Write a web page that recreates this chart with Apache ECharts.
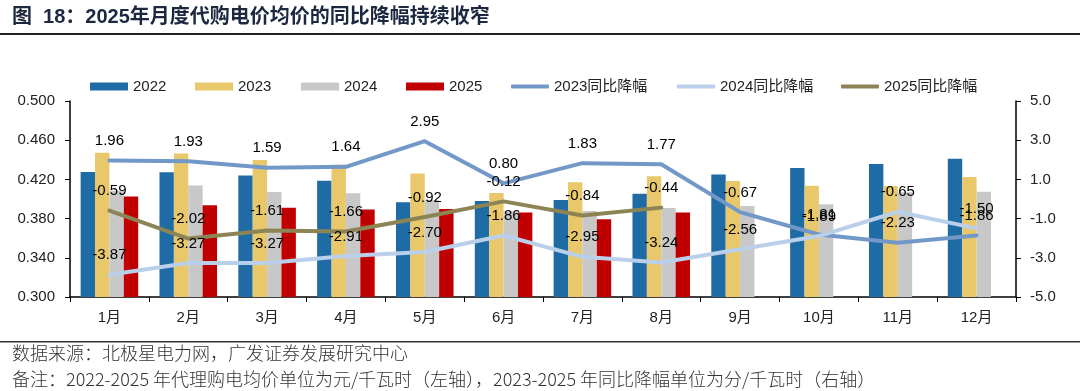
<!DOCTYPE html>
<html>
<head>
<meta charset="utf-8">
<script src="https://cdn.jsdelivr.net/npm/echarts@6/dist/echarts.min.js"></script>
<style>
html,body{margin:0;padding:0;background:#fff;}
#c{width:1080px;height:391px;}
</style>
</head>
<body>
<div id="c"></div>
<script>
const months = ['1月','2月','3月','4月','5月','6月','7月','8月','9月','10月','11月','12月'];
const price2022 = [0.4275, 0.4272, 0.4240, 0.4186, 0.3966, 0.3980, 0.3989, 0.4054, 0.4251, 0.4316, 0.4356, 0.4410];
const price2023 = [0.4471, 0.4465, 0.4399, 0.4350, 0.4261, 0.4060, 0.4172, 0.4231, 0.4184, 0.4135, 0.4133, 0.4224];
const price2024 = [0.4084, 0.4138, 0.4072, 0.4059, 0.3991, 0.3874, 0.3877, 0.3907, 0.3928, 0.3946, 0.4068, 0.4074];
const price2025 = [0.4025, 0.3936, 0.3911, 0.3893, 0.3899, 0.3862, 0.3793, 0.3863, null, null, null, null];
const yoy2023 = [1.96, 1.93, 1.59, 1.64, 2.95, 0.80, 1.83, 1.77, -0.67, -1.81, -2.23, -1.86];
const yoy2024 = [-3.87, -3.27, -3.27, -2.91, -2.70, -1.86, -2.95, -3.24, -2.56, -1.89, -0.65, -1.50];
const yoy2025 = [-0.59, -2.02, -1.61, -1.66, -0.92, -0.12, -0.84, -0.44];
const leftTicks = {min: 0.3, max: 0.5, interval: 0.04};
const rightTicks = {min: -5, max: 5, interval: 2};
const titleText = '图  18：2025年月度代购电价均价的同比降幅持续收窄';
const sourceText = '数据来源：北极星电力网，广发证券发展研究中心';
const noteText = '备注：2022-2025 年代理购电均价单位为元/千瓦时（左轴），2023-2025 年同比降幅单位为分/千瓦时（右轴）';

const FONT = "'Liberation Sans','Noto Sans CJK SC',sans-serif";
const colors = {
  b2022: '#1F6BA5', b2023: '#E8C86A', b2024: '#C8C8C8', b2025: '#C00000',
  l2023: '#7298C8', l2024: '#BAD0EA', l2025: '#8C8455'
};

const chart = echarts.init(document.getElementById('c'), null, {renderer: 'canvas'});

function barSeries(name, data, color) {
  return {
    name, type: 'bar', data, yAxisIndex: 0,
    barGap: '0%', barCategoryGap: '27%',
    itemStyle: {color}, z: 2
  };
}
function lineSeries(name, data, color) {
  return {
    name, type: 'line', data, yAxisIndex: 1,
    symbol: 'circle', symbolSize: 0, showSymbol: true,
    lineStyle: {color, width: 4, cap: 'round', join: 'round'},
    itemStyle: {color},
    label: {
      show: true, position: 'top', distance: 12,
      color: '#000', fontSize: 15, fontFamily: FONT,
      formatter: p => p.value.toFixed(2)
    },
    z: 3
  };
}

const legendBase = {
  top: 74, itemWidth: 38, itemGap: 20,
  textStyle: {fontSize: 15, color: '#222', fontFamily: FONT},
  selectedMode: false
};
function lg(name, left, isLine) {
  return Object.assign({}, legendBase, {
    left, data: [{name, icon: isLine ? 'roundRect' : 'rect'}],
    itemHeight: isLine ? 4 : 8
  });
}

const option = {
  animation: false,
  textStyle: {fontFamily: FONT},
  grid: {left: 70, right: 64, top: 101, bottom: 94, containLabel: false},
  legend: [
    lg('2022', 85, false), lg('2023', 190, false), lg('2024', 296, false), lg('2025', 401, false),
    lg('2023同比降幅', 506, true), lg('2024同比降幅', 672, true), lg('2025同比降幅', 836, true)
  ],
  xAxis: {
    type: 'category', data: months, boundaryGap: true,
    axisLine: {onZero: false, lineStyle: {color: '#000', width: 1.5}},
    axisTick: {show: true, alignWithLabel: false, length: 5, lineStyle: {color: '#000'}},
    axisLabel: {fontSize: 15, color: '#222', margin: 13, fontFamily: FONT}
  },
  yAxis: [
    {
      type: 'value', position: 'left', min: leftTicks.min, max: leftTicks.max, interval: leftTicks.interval,
      splitLine: {show: false},
      axisLine: {show: true, onZero: false, lineStyle: {color: '#000', width: 1.5}},
      axisTick: {show: true, length: 5, lineStyle: {color: '#000'}},
      axisLabel: {fontSize: 15, color: '#222', margin: 15, fontFamily: FONT, formatter: v => v.toFixed(3)}
    },
    {
      type: 'value', position: 'right', min: rightTicks.min, max: rightTicks.max, interval: rightTicks.interval,
      splitLine: {show: false},
      axisLine: {show: true, onZero: false, lineStyle: {color: '#000', width: 1.5}},
      axisTick: {show: true, length: 5, lineStyle: {color: '#000'}},
      axisLabel: {fontSize: 15, color: '#222', margin: 14, fontFamily: FONT, formatter: v => v.toFixed(1)}
    }
  ],
  series: [
    barSeries('2022', price2022, colors.b2022),
    barSeries('2023', price2023, colors.b2023),
    barSeries('2024', price2024, colors.b2024),
    barSeries('2025', price2025, colors.b2025),
    lineSeries('2023同比降幅', yoy2023, colors.l2023),
    lineSeries('2024同比降幅', yoy2024, colors.l2024),
    lineSeries('2025同比降幅', yoy2025, colors.l2025)
  ],
  graphic: [
    {type: 'text', left: 12, top: 7, style: {text: titleText, fontSize: 20, fontWeight: 'bold', fill: '#1C2740', fontFamily: FONT}},
    {type: 'rect', left: 0, top: 33, shape: {width: 1080, height: 2}, style: {fill: '#222'}},
    {type: 'rect', left: 0, top: 341, shape: {width: 1080, height: 1.5}, style: {fill: '#333'}},
    {type: 'text', left: 12, top: 344, style: {text: sourceText, fontSize: 18, fill: '#333', fontFamily: "'Noto Sans CJK SC',sans-serif", fontWeight: 300}},
    {type: 'text', left: 12, top: 370, style: {text: noteText, fontSize: 18, fill: '#333', fontFamily: "'Noto Sans CJK SC',sans-serif", fontWeight: 300}}
  ]
};
chart.setOption(option);
</script>
</body>
</html>
